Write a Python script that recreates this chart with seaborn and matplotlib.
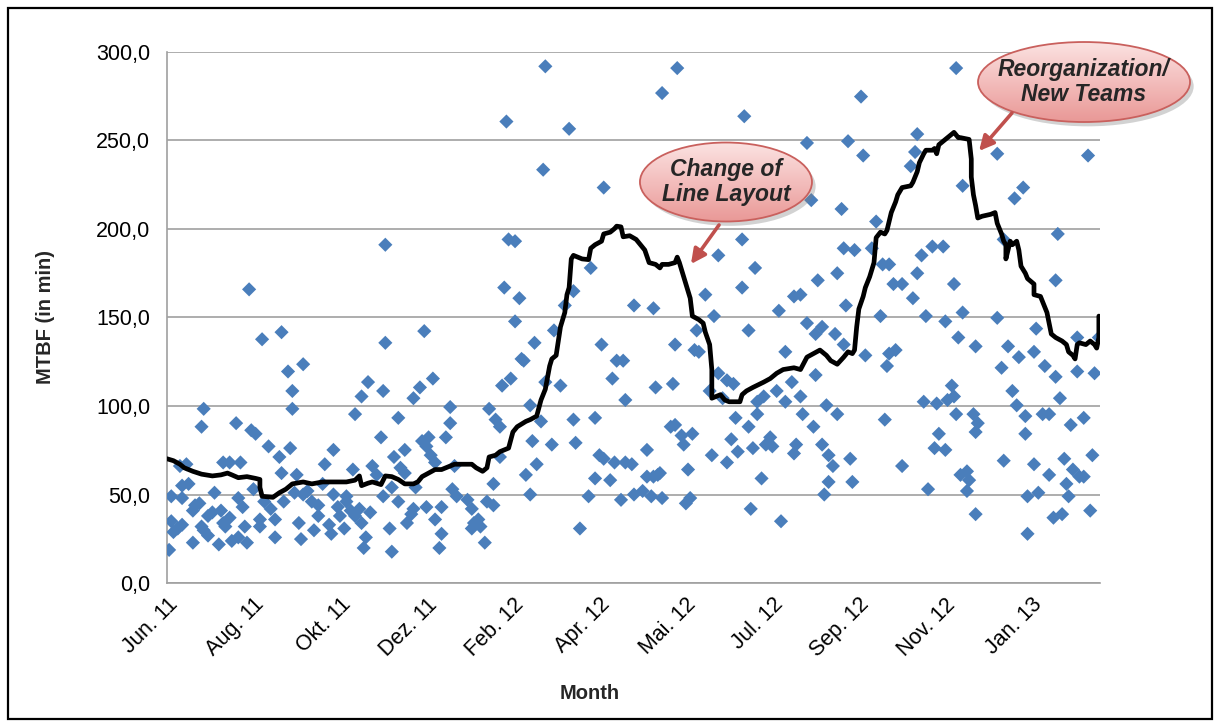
import matplotlib
matplotlib.use("Agg")
import matplotlib.pyplot as plt
import matplotlib.patches as mpatches
from matplotlib.colors import LinearSegmentedColormap
from matplotlib.ticker import FuncFormatter
import numpy as np
import pandas as pd
import seaborn as sns

mtbf_x = [
    1, 2, 2, 3, 5, 7, 6, 7, 10, 9, 7, 12, 13, 15, 12, 16, 17, 16, 17, 19,
    19, 21, 22, 24, 25, 26, 26, 27, 29, 29, 30, 32, 33, 33, 34, 35, 36, 37, 38, 39,
    40, 41, 43, 43, 44, 45, 47, 48, 50, 50, 52, 53, 53, 54, 56, 57, 58, 58, 59, 60,
    61, 62, 63, 63, 65, 67, 68, 70, 70, 72, 73, 75, 76, 77, 77, 79, 80, 82, 83, 83,
    85, 86, 87, 87, 89, 90, 90, 91, 92, 93, 94, 95, 97, 99, 100, 100, 101, 101, 103, 104,
    104, 105, 107, 107, 108, 110, 110, 111, 113, 114, 114, 115, 117, 118, 119, 120, 120, 121, 122, 123,
    124, 124, 126, 127, 127, 129, 131, 131, 132, 133, 134, 139, 141, 141, 142, 144, 145, 147, 148, 149,
    151, 151, 152, 154, 154, 155, 156, 157, 158, 159, 161, 161, 163, 164, 165, 166, 168, 168, 169, 170,
    171, 173, 174, 175, 175, 178, 179, 182, 184, 186, 188, 188, 189, 191, 195, 196, 198, 198, 200, 201,
    202, 202, 205, 206, 207, 208, 210, 211, 212, 212,
    216, 225, 215, 216, 220, 222, 222, 224, 225, 226, 227, 228, 229, 229, 234, 235, 233, 235, 236, 238,
    239, 240, 241, 242, 243, 244, 245, 246, 249, 251, 252, 253, 255, 255, 257, 259, 259, 261, 262, 263,
    264, 266, 266, 267, 269, 269, 270, 271, 272, 273, 273, 275, 276, 277, 279, 280, 282, 283, 284, 286,
    286, 289, 290, 290, 291, 293, 293, 294, 296, 296, 298, 299, 300, 300, 301, 303, 303, 304, 305, 306,
    306, 308, 309, 310, 310, 312, 313, 313, 314, 315, 316, 317, 318, 321, 322, 323, 326, 328, 330, 331,
    332, 333, 334, 334, 336, 337, 340, 340, 344, 345, 346, 347, 347, 349, 350, 351, 352, 354, 355, 356,
    357, 359, 360, 360, 361, 363, 364, 364, 365, 365, 366, 367, 368, 368, 370, 370, 371, 373, 374, 374,
    375, 374, 384, 384, 386, 387, 387, 389, 391, 392, 393, 394, 396, 397, 397, 398, 398, 401, 401, 402,
    403, 405, 406, 408, 408, 410, 411, 411, 412, 413, 414, 415, 416, 417, 418, 419, 421, 421, 422, 424,
    424, 426, 427, 428, 429, 431,
]
mtbf_y = [
    18.7, 49.0, 34.9, 28.8, 30.8, 32.9, 66.1, 55.0, 56.0, 67.1, 48.0, 40.9, 43.9, 45.0, 22.8, 31.9, 29.8, 88.3, 98.4, 37.9,
    26.8, 39.9, 51.0, 21.8, 40.9, 68.1, 33.9, 31.9, 68.1, 36.9, 23.8, 90.3, 25.8, 48.0, 68.1, 42.9, 31.9, 22.8, 165.9, 86.3,
    53.0, 84.3, 31.9, 35.9, 137.7, 46.0, 77.2, 41.9, 25.8, 35.9, 71.2, 141.7, 62.1, 46.0, 119.5, 76.2, 108.5, 98.4, 51.0, 61.1,
    33.9, 24.8, 123.6, 50.0, 52.0, 46.0, 29.8, 43.9, 37.9, 56.0, 67.1, 32.9, 27.8, 50.0, 75.2, 42.9, 37.9, 30.8, 46.0, 49.0,
    40.9, 64.1, 37.9, 95.4, 41.9, 105.4, 33.9, 19.8, 25.8, 113.5, 39.9, 66.1, 61.1, 82.3, 49.0, 108.5, 135.7, 191.1, 30.8, 54.0,
    17.7, 71.2, 93.3, 46.0, 65.1, 75.2, 62.1, 33.9, 38.9, 104.4, 41.9, 54.0, 110.5, 80.2, 142.3, 42.9, 77.2, 82.3, 72.2, 115.5,
    68.1, 35.9, 19.8, 27.8, 42.9, 82.3, 90.3, 99.4, 53.0, 66.1, 49.0, 47.0, 30.8, 41.9, 33.9, 35.9, 31.9, 22.8, 46.0, 98.4,
    56.0, 43.9, 92.3, 88.3, 71.2, 111.5, 166.9, 260.7, 194.1, 115.5, 193.1, 147.8, 160.9, 126.6, 125.6, 61.1, 50.0, 100.4, 80.2, 135.7,
    67.1, 91.3, 233.5, 291.9, 113.5, 78.2, 142.7, 111.5, 156.8, 256.6, 92.3, 164.9, 79.2, 30.8, 49.0, 178.0, 59.1, 93.3, 72.2, 134.7,
    70.2, 223.4, 58.1, 115.5, 68.1, 125.6, 47.0, 125.6, 68.1, 103.4,
    156.8, 155.2, 67.1, 50.0, 52.0, 75.2, 60.1, 49.0, 60.1, 110.5, 61.1, 62.1, 48.0, 276.8, 112.5, 134.7, 88.3, 89.3, 290.9, 83.3,
    78.2, 45.0, 64.1, 48.0, 84.3, 131.6, 142.7, 130.6, 162.9, 108.5, 72.2, 150.8, 185.1, 118.5, 104.4, 114.5, 68.1, 81.2, 112.5, 93.3,
    74.2, 194.1, 166.9, 263.7, 88.3, 142.7, 41.9, 76.2, 178.0, 95.4, 102.4, 59.1, 105.4, 78.2, 82.3, 77.2, 108.5, 153.8, 34.9, 102.4,
    130.6, 113.5, 73.2, 161.9, 78.2, 162.9, 105.4, 95.4, 248.6, 146.8, 216.3, 88.3, 140.7, 117.5, 171.0, 78.2, 144.7, 50.0, 100.4, 57.1,
    72.2, 66.1, 140.7, 175.0, 95.4, 211.3, 189.1, 134.7, 156.8, 249.6, 70.2, 57.1, 188.1, 274.8, 241.5, 128.6, 189.1, 204.2, 150.8, 180.0,
    92.3, 122.6, 180.0, 129.6, 168.9, 131.6, 66.1, 168.9, 235.5, 160.9, 243.5, 253.6, 175.0, 185.1, 102.4, 150.8, 53.0, 190.1, 76.2, 101.4,
    84.3, 190.1, 147.8, 75.2, 103.4, 111.5, 105.4, 168.9, 290.9, 95.4, 138.7, 61.1, 152.8, 224.4, 52.0, 63.1, 58.1, 95.4, 38.9, 133.7,
    90.3, 85.3, 149.8, 242.5, 121.6, 69.1, 194.1, 133.7, 108.5, 217.3, 100.4, 127.6, 223.4, 84.3, 94.3, 49.0, 27.8, 130.6, 67.1, 143.7,
    51.0, 95.4, 122.6, 61.1, 95.4, 36.9, 116.5, 171.0, 197.2, 104.4, 38.9, 70.2, 56.0, 49.0, 89.3, 64.1, 138.7, 119.5, 60.1, 60.1,
    93.3, 241.5, 40.9, 72.2, 118.5, 138.7,
]

# Moving average of the MTBF (black line)
trend_x = [
    0, 3, 6, 8, 12, 16, 21, 25, 28, 30, 33, 37, 41, 43, 43, 44, 49, 52, 55, 58,
    63, 67, 72, 78, 83, 87, 89, 90, 93, 95, 99, 101, 104, 107, 110, 114, 116, 118, 121, 124,
    127, 131, 133, 141, 143, 146, 148, 149, 152, 154, 158, 160, 162, 166, 168, 171, 173, 175, 177, 178,
    180, 181, 182, 184, 185, 186, 187, 188, 192, 195, 196, 198, 201, 202, 205, 207, 208, 210, 211, 214,
    217, 219, 221, 223, 226, 228, 229, 232, 235, 236, 237, 239, 240, 242, 243, 246, 248, 249, 251, 252,
    252, 256, 258, 260, 265, 266, 268, 271, 276, 279, 282, 285, 290, 293, 296, 299, 302, 305, 307, 310,
    313, 315, 317, 318, 319, 320, 322, 323, 325, 327, 328, 330, 332, 333, 335, 337, 338, 339, 340, 344,
    345, 346, 347, 348, 350, 351, 354, 355, 356, 357, 360, 362, 364, 366, 367, 371, 372, 372, 373, 374,
    375, 377, 381, 383, 384, 386, 387, 388, 388, 390, 391, 393, 394, 395, 397, 398, 401, 401, 404, 405,
    407, 408, 409, 411, 414, 416, 417, 419, 420, 421, 422, 425, 427, 429, 430, 431, 431,
]
trend_y = [
    70.2, 69.1, 67.1, 65.1, 63.1, 61.5, 60.5, 61.1, 62.1, 61.1, 59.5, 60.1, 59.1, 58.5, 54.0, 49.0, 48.4, 51.0, 53.0, 56.0,
    57.1, 56.0, 57.1, 57.1, 57.1, 58.1, 60.5, 55.0, 56.4, 57.1, 55.6, 60.5, 60.1, 58.5, 56.0, 56.0, 57.1, 60.1, 62.1, 64.1,
    64.1, 66.1, 67.1, 67.1, 65.1, 63.1, 65.1, 71.2, 72.2, 74.2, 76.2, 85.3, 88.3, 91.3, 92.3, 94.3, 103.4, 109.5, 122.6, 126.6,
    128.6, 136.7, 144.7, 152.8, 162.9, 166.9, 183.1, 185.1, 183.1, 182.7, 189.1, 191.1, 193.1, 197.2, 198.2, 200.2, 201.6, 201.2, 195.6, 196.2,
    194.1, 191.1, 188.1, 181.0, 180.0, 178.0, 180.0, 180.0, 181.0, 184.1, 181.0, 173.0, 168.9, 160.9, 150.8, 148.8, 146.8, 141.7, 134.7, 120.6,
    104.4, 106.4, 103.4, 102.4, 102.4, 106.4, 108.5, 110.5, 113.5, 115.5, 118.5, 120.6, 121.6, 120.6, 127.6, 129.6, 131.6, 128.6, 125.6, 123.6,
    127.6, 130.6, 129.6, 131.6, 144.7, 154.8, 161.9, 166.9, 173.0, 181.0, 195.1, 198.2, 197.2, 199.2, 209.3, 215.3, 219.3, 221.4, 223.4, 224.4,
    226.4, 229.4, 232.4, 237.5, 242.5, 244.5, 244.5, 245.5, 242.5, 247.6, 250.6, 252.6, 254.6, 251.6, 251.6, 250.6, 239.5, 229.4, 219.3, 213.3,
    206.2, 207.2, 208.3, 209.3, 203.2, 197.2, 193.1, 191.1, 183.1, 193.1, 191.1, 193.1, 188.1, 179.0, 175.0, 172.0, 168.9, 162.9, 161.9, 158.9,
    152.8, 146.8, 140.7, 138.7, 136.7, 134.7, 130.6, 128.6, 126.6, 134.7, 135.7, 134.7, 136.7, 134.7, 132.7, 138.7, 150.8,
]

# Month labels, one every 40 events
tick_labels = ["Jun. 11", "Aug. 11", "Okt. 11", "Dez. 11", "Feb. 12", "Apr. 12",
               "Mai. 12", "Jul. 12", "Sep. 12", "Nov. 12", "Jan. 13"]
tick_events = [0, 40, 80, 120, 160, 200, 240, 280, 320, 360, 400]
y_ticks = [0, 50, 100, 150, 200, 250, 300]

points = pd.DataFrame({"event": mtbf_x, "mtbf": mtbf_y})
trend = pd.DataFrame({"event": trend_x, "mtbf": trend_y})

sns.set_style("white")
plt.rcParams["font.family"] = ["Liberation Sans", "DejaVu Sans"]

fig = plt.figure(figsize=(12.15, 7.22), dpi=100)
ax = fig.add_axes([0.1374, 0.1925, 0.7679, 0.7355])

sns.scatterplot(data=points, x="event", y="mtbf", marker="D", s=52,
                color="#4a7ebb", edgecolor="none", linewidth=0, ax=ax, zorder=3)
sns.lineplot(data=trend, x="event", y="mtbf", estimator=None, sort=False,
             color="black", linewidth=3.4, ax=ax, zorder=4)

ax.set_xlim(0, 431.5)
ax.set_ylim(0, 300)
ax.set_yticks(y_ticks)
ax.yaxis.set_major_formatter(FuncFormatter(lambda v, p: f"{v:.1f}".replace(".", ",")))
ax.set_xticks(tick_events)
ax.set_xticklabels(tick_labels, rotation=45, ha="right", rotation_mode="anchor")
ax.tick_params(axis="both", length=0, labelsize=15.5, colors="black")
ax.tick_params(axis="y", pad=12)
ax.tick_params(axis="x", pad=8)
ax.grid(axis="y", color="#a0a0a0", linewidth=1.2)
ax.grid(axis="x", visible=False)
for side in ["top", "right"]:
    ax.spines[side].set_visible(False)
for side in ["left", "bottom"]:
    ax.spines[side].set_color("#a0a0a0")
    ax.spines[side].set_linewidth(1.2)

ax.set_xlabel("Month", fontsize=14.5, fontweight="bold")
ax.set_ylabel("MTBF (in min)", fontsize=14.5, fontweight="bold")
ax.xaxis.set_label_coords(0.453, -0.19)
ax.yaxis.set_label_coords(-0.12, 0.5)

# callout bubbles on an overlay in figure fractions
ov = fig.add_axes([0, 0, 1, 1], zorder=5)
ov.set_xlim(0, 1)
ov.set_ylim(0, 1)
ov.set_axis_off()
pink = LinearSegmentedColormap.from_list("pink", ["#fbe2e1", "#f3bdbc", "#e99896"])


def callout(cx, cy, w, h, text, tail, head):
    shadow = mpatches.Ellipse((cx + 0.003, cy - 0.006), w, h, facecolor="#808080",
                              alpha=0.35, edgecolor="none", zorder=1)
    ov.add_patch(shadow)
    ell = mpatches.Ellipse((cx, cy), w, h, facecolor="none", edgecolor="#c9605d",
                           linewidth=1.3, zorder=3)
    ov.add_patch(ell)
    grad = np.linspace(0, 1, 256).reshape(-1, 1)
    im = ov.imshow(grad, cmap=pink, aspect="auto", origin="upper", zorder=2,
                   extent=(cx - w / 2, cx + w / 2, cy - h / 2, cy + h / 2))
    im.set_clip_path(ell)
    ov.text(cx, cy, text, ha="center", va="center", fontsize=16.5, fontweight="bold",
            fontstyle="italic", linespacing=1.15, zorder=4)
    ov.annotate("", xy=head, xytext=tail,
                arrowprops=dict(arrowstyle="-|>", color="#c0504d", lw=2.6,
                                mutation_scale=22, shrinkA=0, shrinkB=0), zorder=4)


callout(0.5975, 0.7479, 0.1416, 0.1094, "Change of\nLine Layout",
        (0.5918, 0.6884), (0.5687, 0.6343))
callout(0.8922, 0.8864, 0.1745, 0.1108, "Reorganization/\nNew Teams",
        (0.8329, 0.8435), (0.8058, 0.7909))
ov.set_xlim(0, 1)
ov.set_ylim(0, 1)

fig.patches.append(mpatches.Rectangle((0.0066, 0.004), 0.991, 0.985, transform=fig.transFigure,
                                      fill=False, edgecolor="black", linewidth=1.6))

fig.savefig("out.png", dpi=100)
